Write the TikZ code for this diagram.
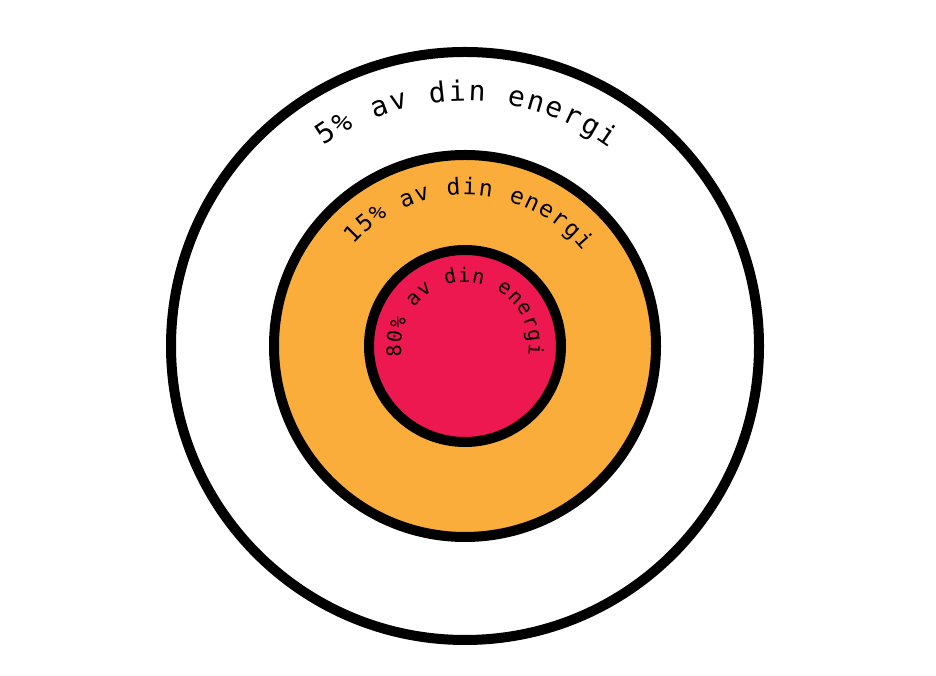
\documentclass[tikz,border=0pt]{standalone}
\usepackage{fontspec}
\setmonofont{DejaVu Sans Mono}

\definecolor{ringorange}{RGB}{250,173,58}
\definecolor{corered}{RGB}{237,24,80}

\begin{document}
\begin{tikzpicture}[
    x=1pt, y=1pt,
    ring/.style={draw=black, line width=10pt},
    glyph/.style={inner sep=0pt, anchor=base, font=\ttfamily\fontsize{#1}{#1}\selectfont}
]
\useasboundingbox (0,0) rectangle (936,676);
\coordinate (c) at (465,330);

% rings
\draw[ring, fill=white] (c) circle[radius=294];
\draw[ring, fill=ringorange] (c) circle[radius=191];
\draw[ring, fill=corered] (c) circle[radius=96];

% labels along the rings, one glyph at a time
\foreach \ch [count=\i] in {5,\%,{},a,v,{},d,i,n,{},e,n,e,r,g,i}
  \node[glyph=28, rotate={125.5-(\i-0.5)*4.5-90}] (outer-\i)
    at ([shift={({125.5-(\i-0.5)*4.5}:245)}]c) {\ch};
\foreach \ch [count=\i] in {1,5,\%,{},a,v,{},d,i,n,{},e,n,e,r,g,i}
  \node[glyph=23, rotate={138-(\i-0.5)*5.85-90}] (middle-\i)
    at ([shift={({138-(\i-0.5)*5.85}:151)}]c) {\ch};
\foreach \ch [count=\i] in {8,0,\%,{},a,v,{},d,i,n,{},e,n,e,r,g,i}
  \node[glyph=20, rotate={190-(\i-0.5)*11.7-90}] (inner-\i)
    at ([shift={({190-(\i-0.5)*11.7}:64)}]c) {\ch};
\end{tikzpicture}
\end{document}
